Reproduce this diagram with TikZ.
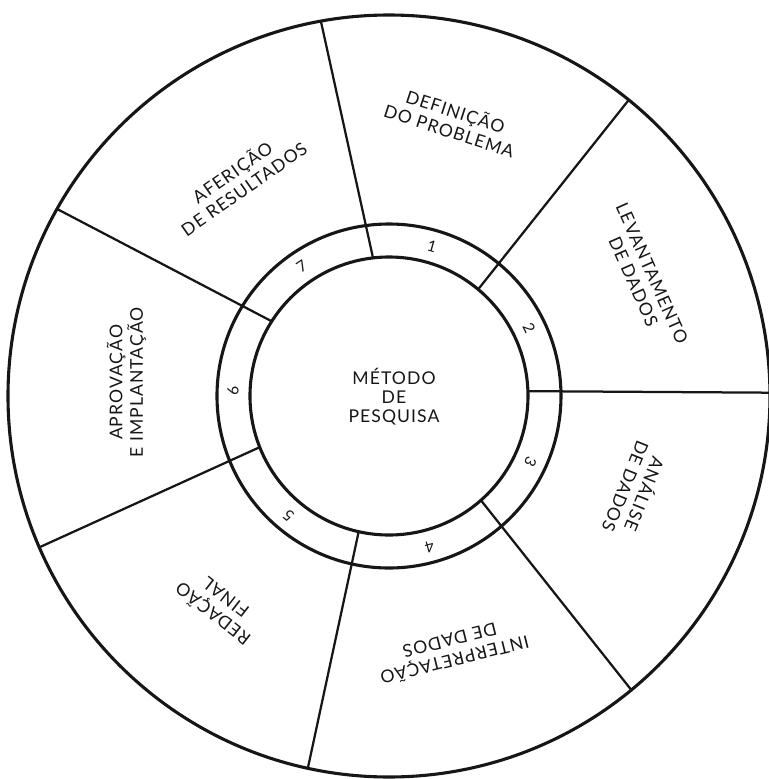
\documentclass[tikz,border=0pt]{standalone}
\usepackage{fontspec}
\setmainfont{Lato}[LetterSpace=6]
\usetikzlibrary{positioning}
\definecolor{ink}{RGB}{22,22,22}
\tikzset{
  ring/.style={draw=ink, line width=2.2pt},
  spoke/.style={draw=ink, line width=1.6pt},
  lbl/.style={align=center, font=\fontsize{12.5}{14.5}\selectfont, text=ink,
    inner sep=1pt},
  num/.style={font=\fontsize{11}{11}\selectfont, text=ink, inner sep=1pt},
  hub/.style={align=center, font=\fontsize{12.5}{13.5}\selectfont, text=ink},
}

\begin{document}
\begin{tikzpicture}[x=0.025cm, y=0.025cm]
\useasboundingbox (-389,-383) rectangle (380,396);
% outer circle and the numbered ring
\draw[ring] (0,0) circle[radius=381];
\draw[ring] (0,0) circle[radius=172];
\draw[ring] (0,0) circle[radius=139];
% spokes between the stages
\foreach \a/\b in {96.6/100.3, 50.1/51, 2/0.5, -48.6/-50.5,
  -102.6/-102.3, -158.4/-156.6, 147.5/150.6}
  \draw[spoke] (\a:139) -- (\b:381);

\node[hub] (hub) at (5,-1) {MÉTODO\\DE\\PESQUISA};

\node[lbl, rotate=-18] (defin) at (77:283) {DEFINIÇÃO\\DO PROBLEMA};
\node[lbl, rotate=-66] (levant) at (25:280) {LEVANTAMENTO\\DE DADOS};
\node[lbl, rotate=-112] (analise) at (-21:265) {ANÁLISE\\DE DADOS};
\node[lbl, rotate=-166] (interp) at (-76:263) {INTERPRETAÇÃO\\DE DADOS};
\node[lbl, rotate=142] (redacao) at (-129:271) {REDAÇÃO\\FINAL};
\node[lbl, rotate=90] (aprov) at (177:263) {APROVAÇÃO\\E IMPLANTAÇÃO};
\node[lbl, rotate=35] (aferic) at (125:264) {AFERIÇÃO\\DE RESULTADOS};

% stage numbers in the ring
\foreach \n/\a in {1/74, 2/26, 3/-25, 4/-75, 5/-130, 6/178, 7/124}
  \node[num, rotate=\a-90] (n\n) at (\a:156) {\n};
\end{tikzpicture}
\end{document}
